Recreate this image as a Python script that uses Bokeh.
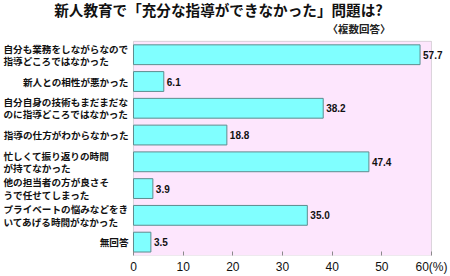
from bokeh.plotting import figure
from bokeh.models import ColumnDataSource, Range1d, Label, BoxAnnotation, FixedTicker
from bokeh.core.properties import value
from bokeh.embed import file_html
from bokeh.resources import INLINE

categories = [
    "自分も業務をしながらなので\n指導どころではなかった",
    "新人との相性が悪かった",
    "自分自身の技術もまだまだな\nのに指導どころではなかった",
    "指導の仕方がわからなかった",
    "忙しくて振り返りの時間\nが持てなかった",
    "他の担当者の方が良さそ\nうで任せてしまった",
    "プライベートの悩みなどをき\nいてあげる時間がなかった",
    "無回答",
]
values = [57.7, 6.1, 38.2, 18.8, 47.4, 3.9, 35.0, 3.5]
value_labels = ["57.7", "6.1", "38.2", "18.8", "47.4", "3.9", "35.0", "3.5"]
x_ticks = [0, 10, 20, 30, 40, 50, 60]
title_text = "新人教育で「充分な指導ができなかった」問題は?"
subtitle_text = "〈複数回答〉"

JP = "Noto Sans CJK JP"
NUM = "'Liberation Sans'"

n = len(categories)
ypos = [n - 1 - i for i in range(n)]
src = ColumnDataSource(dict(y=ypos, val=values, lab=value_labels))

# category labels split into lines (left-aligned blocks for two-line labels)
ROW_PX = 26.875
LINE_PX = 12.5
lx, ly, lt, la, lo = [], [], [], [], []
for c, y in zip(categories, ypos):
    lines = c.split("\n")
    k = len(lines)
    for j, line in enumerate(lines):
        lx.append(0)
        ly.append(y + ((k - 1) / 2 - j) * LINE_PX / ROW_PX)
        lt.append(line)
        la.append("left" if k > 1 else "right")
        lo.append(-130 if k > 1 else -5)
lab_src = ColumnDataSource(dict(x=lx, y=ly, text=lt, align=la, xoff=lo))

p = figure(
    width=450, height=276,
    x_range=Range1d(-26.78, 63.83),
    y_range=Range1d(-0.5, n - 0.5 + 1.526),
    output_backend="svg", toolbar_location=None,
    min_border_left=0, min_border_right=0, min_border_top=0, min_border_bottom=20,
)
p.background_fill_color = "white"
p.border_fill_color = "white"
p.outline_line_color = None
p.xgrid.visible = False
p.ygrid.visible = False
p.yaxis.visible = False

box = BoxAnnotation(left=0, right=x_ticks[-1], bottom=-0.5, top=n - 0.5,
                    fill_color="#FDE6FD", fill_alpha=1.0,
                    line_color="#8A8A8A", line_width=1, level="underlay")
p.add_layout(box)

p.hbar(y="y", right="val", height=0.74, left=0, source=src,
       fill_color="#80FFFF", line_color="#5E8C8E", line_width=1)

p.text(x="val", y="y", text="lab", source=src, x_offset=3,
       text_baseline="middle", text_align="left",
       text_font=value(NUM), text_font_style="bold",
       text_font_size="10px", text_color="#111111")

p.text(x="x", y="y", text="text", source=lab_src, x_offset="xoff",
       text_baseline="middle", text_align="align",
       text_font=value(JP), text_font_style="bold",
       text_font_size="9.6px", text_color="#111111")

p.xaxis.ticker = FixedTicker(ticks=x_ticks)
p.xaxis.major_label_overrides = {x_ticks[-1]: f"{x_ticks[-1]}(%)"}
p.xaxis.major_tick_in = 4
p.xaxis.major_tick_out = 0
p.xaxis.minor_tick_line_color = None
p.xaxis.axis_line_color = None
p.xaxis.major_tick_line_color = "#8A8A8A"
p.xaxis.major_label_text_font = NUM
p.xaxis.major_label_text_font_size = "12px"
p.xaxis.major_label_text_color = "#111111"
p.xaxis.major_label_standoff = 4

p.add_layout(Label(x=218, y=246, x_units="screen", y_units="screen",
                   text=title_text, text_align="center", text_baseline="middle",
                   text_font=JP, text_font_style="bold", text_font_size="14.6px",
                   text_color="#111111"))
p.add_layout(Label(x=390, y=227, x_units="screen", y_units="screen",
                   text=subtitle_text, text_align="right", text_baseline="middle",
                   text_font=JP, text_font_style="bold", text_font_size="10.5px",
                   text_color="#222222"))

open("out.html", "w").write(file_html(p, INLINE))
